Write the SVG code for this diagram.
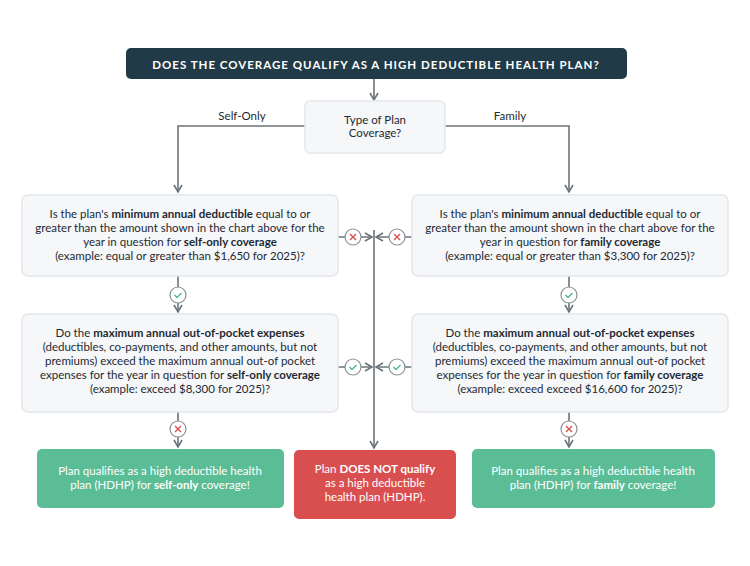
<svg xmlns="http://www.w3.org/2000/svg" width="750" height="566" viewBox="0 0 750 566">
<defs>
<style>
.box{fill:#f6f7f9;stroke:#e4e7eb;stroke-width:1.5}
.t{font-family:"Lato","Liberation Sans",sans-serif;font-size:11.5px;fill:#1d2a33;text-anchor:middle}
.w{font-family:"Lato","Liberation Sans",sans-serif;font-size:11.5px;fill:#fff;text-anchor:middle}
.ln{stroke:#6b7378;stroke-width:1.6;fill:none}
.ic{fill:#fff;stroke:#8a9196;stroke-width:1.2}
.x{stroke:#d94f4f;stroke-width:1.4;fill:none}
.ck{stroke:#4cba8c;stroke-width:1.4;fill:none}
</style>
<marker id="a" markerWidth="10" markerHeight="10" refX="8" refY="5" orient="auto" markerUnits="userSpaceOnUse"><path d="M1,1 L8,5 L1,9" fill="none" stroke="#6b7378" stroke-width="1.6"/></marker>
</defs>
<rect width="750" height="566" fill="#fff"/>
<g id="connectors">
<path class="ln" d="M374,79 V100" marker-end="url(#a)"/>
<path class="ln" d="M305,126 H178 V192" marker-end="url(#a)"/>
<path class="ln" d="M445,126 H569 V192" marker-end="url(#a)"/>
<path class="ln" d="M374,230 V448" marker-end="url(#a)"/>
<path class="ln" d="M338,237 H372" marker-end="url(#a)"/>
<path class="ln" d="M412,237 H376" marker-end="url(#a)"/>
<path class="ln" d="M338,367 H372" marker-end="url(#a)"/>
<path class="ln" d="M412,367 H376" marker-end="url(#a)"/>
<path class="ln" d="M178,276 V312" marker-end="url(#a)"/>
<path class="ln" d="M569,276 V312" marker-end="url(#a)"/>
<path class="ln" d="M178,412 V447" marker-end="url(#a)"/>
<path class="ln" d="M569,412 V447" marker-end="url(#a)"/>
<text class="t" x="242" y="120">Self-Only</text>
<text class="t" x="510" y="120">Family</text>
<g><circle class="ic" cx="353" cy="237" r="8"/><path class="x" d="M350,234 l6,6 M356,234 l-6,6"/></g>
<g><circle class="ic" cx="397" cy="237" r="8"/><path class="x" d="M394,234 l6,6 M400,234 l-6,6"/></g>
<g><circle class="ic" cx="353" cy="367" r="8"/><path class="ck" d="M349.5,367 l2.5,2.5 l4.5,-4.5"/></g>
<g><circle class="ic" cx="397" cy="367" r="8"/><path class="ck" d="M393.5,367 l2.5,2.5 l4.5,-4.5"/></g>
<g><circle class="ic" cx="178" cy="295" r="8"/><path class="ck" d="M174.5,295 l2.5,2.5 l4.5,-4.5"/></g>
<g><circle class="ic" cx="569" cy="295" r="8"/><path class="ck" d="M565.5,295 l2.5,2.5 l4.5,-4.5"/></g>
<g><circle class="ic" cx="178" cy="429" r="8"/><path class="x" d="M175,426 l6,6 M181,426 l-6,6"/></g>
<g><circle class="ic" cx="569" cy="429" r="8"/><path class="x" d="M566,426 l6,6 M572,426 l-6,6"/></g>
</g>
<g id="title"><rect x="126" y="48" width="501" height="31" rx="5" fill="#213a47"/><text class="w" x="376" y="68.5" font-weight="bold" font-size="14" letter-spacing="1">DOES THE COVERAGE QUALIFY AS A HIGH DEDUCTIBLE HEALTH PLAN?</text></g>
<g id="type"><rect class="box" x="305" y="101" width="140" height="52" rx="5"/><text class="t" x="375" y="124">Type of Plan</text><text class="t" x="375" y="137">Coverage?</text></g>
<g id="q1l"><rect class="box" x="22" y="195" width="316" height="81" rx="6"/>
<text class="t" x="180" y="218">Is the plan's <tspan font-weight="bold">minimum annual deductible</tspan> equal to or</text>
<text class="t" x="180" y="232">greater than the amount shown in the chart above for the</text>
<text class="t" x="180" y="246">year in question for <tspan font-weight="bold">self-only coverage</tspan></text>
<text class="t" x="180" y="260">(example: equal or greater than $1,650 for 2025)?</text></g>
<g id="q1r"><rect class="box" x="412" y="195" width="316" height="81" rx="6"/>
<text class="t" x="570" y="218">Is the plan's <tspan font-weight="bold">minimum annual deductible</tspan> equal to or</text>
<text class="t" x="570" y="232">greater than the amount shown in the chart above for the</text>
<text class="t" x="570" y="246">year in question for <tspan font-weight="bold">family coverage</tspan></text>
<text class="t" x="570" y="260">(example: equal or greater than $3,300 for 2025)?</text></g>
<g id="q2l"><rect class="box" x="22" y="314" width="316" height="98" rx="6"/>
<text class="t" x="180" y="337">Do the <tspan font-weight="bold">maximum annual out-of-pocket expenses</tspan></text>
<text class="t" x="180" y="351">(deductibles, co-payments, and other amounts, but not</text>
<text class="t" x="180" y="365">premiums) exceed the maximum annual out-of pocket</text>
<text class="t" x="180" y="379">expenses for the year in question for <tspan font-weight="bold">self-only coverage</tspan></text>
<text class="t" x="180" y="393">(example: exceed $8,300 for 2025)?</text></g>
<g id="q2r"><rect class="box" x="412" y="314" width="316" height="98" rx="6"/>
<text class="t" x="570" y="337">Do the <tspan font-weight="bold">maximum annual out-of-pocket expenses</tspan></text>
<text class="t" x="570" y="351">(deductibles, co-payments, and other amounts, but not</text>
<text class="t" x="570" y="365">premiums) exceed the maximum annual out-of pocket</text>
<text class="t" x="570" y="379">expenses for the year in question for <tspan font-weight="bold">family coverage</tspan></text>
<text class="t" x="570" y="393">(example: exceed exceed $16,600 for 2025)?</text></g>
<g id="okl"><rect x="37" y="449" width="247" height="59" rx="5" fill="#5bbd96"/>
<text class="w" x="160" y="475">Plan qualifies as a high deductible health</text>
<text class="w" x="160" y="489">plan (HDHP) for <tspan font-weight="bold">self-only</tspan> coverage!</text></g>
<g id="no"><rect x="294" y="450" width="162" height="69" rx="5" fill="#d94f4f"/>
<text class="w" x="375" y="473">Plan <tspan font-weight="bold">DOES NOT qualify</tspan></text>
<text class="w" x="375" y="487">as a high deductible</text>
<text class="w" x="375" y="501">health plan (HDHP).</text></g>
<g id="okr"><rect x="472" y="449" width="243" height="59" rx="5" fill="#5bbd96"/>
<text class="w" x="593" y="475">Plan qualifies as a high deductible health</text>
<text class="w" x="593" y="489">plan (HDHP) for <tspan font-weight="bold">family</tspan> coverage!</text></g>
</svg>
